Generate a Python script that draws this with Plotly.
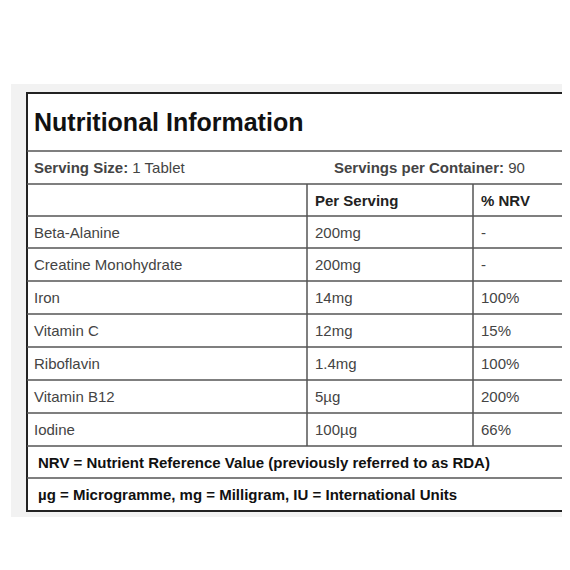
import plotly.graph_objects as go

title = "Nutritional Information"
serving_size = "1 Tablet"
servings_per_container = "90"
headers = ["Per Serving", "% NRV"]
nutrients = ["Beta-Alanine", "Creatine Monohydrate", "Iron", "Vitamin C", "Riboflavin", "Vitamin B12", "Iodine"]
per_serving = ["200mg", "200mg", "14mg", "12mg", "1.4mg", "5µg", "100µg"]
nrv = ["-", "-", "100%", "15%", "100%", "200%", "66%"]
notes = ["NRV = Nutrient Reference Value (previously referred to as RDA)",
         "µg = Microgramme, mg = Milligram, IU = International Units"]

L, R = 11, 563
C1, C2 = 291, 457
row_edges = [77, 135, 168, 200, 232, 265, 298, 331, 364, 397, 430, 462, 495]

fig = go.Figure()
shapes = [dict(type="rect", x0=-5, x1=569, y0=68, y1=501, fillcolor="#f2f2f2", line_width=0, layer="below"),
          dict(type="rect", x0=L, x1=R, y0=77, y1=495, fillcolor="white", line=dict(color="#222", width=2), layer="below")]
for y in row_edges[1:-1]:
    shapes.append(dict(type="line", x0=L, x1=R, y0=y, y1=y, line=dict(color="#555", width=1.5)))
shapes.append(dict(type="line", x0=C1, x1=C1, y0=168, y1=430, line=dict(color="#555", width=1.5)))
shapes.append(dict(type="line", x0=C2, x1=C2, y0=168, y1=430, line=dict(color="#555", width=1.5)))

def mid(i):
    return (row_edges[i] + row_edges[i + 1]) / 2

ann = []
def t(x, y, text, size=15, color="#444"):
    ann.append(dict(x=x, y=y, text=text, showarrow=False, xanchor="left", yanchor="middle",
                    font=dict(size=size, color=color, family="Liberation Sans, Arial")))

t(16, mid(0), "<b>" + title + "</b>", 25, "#111")
t(16, mid(1), "<b>Serving Size:</b> " + serving_size, 15, "#444")
t(316, mid(1), "<b>Servings per Container:</b> " + servings_per_container, 15, "#444")
t(297, mid(2), "<b>" + headers[0] + "</b>", 15, "#222")
t(463, mid(2), "<b>" + headers[1] + "</b>", 15, "#222")
for i, (n, p, v) in enumerate(zip(nutrients, per_serving, nrv)):
    y = mid(3 + i)
    t(16, y, n); t(297, y, p); t(463, y, v)
for j, n in enumerate(notes):
    t(20, mid(10 + j), "<b>" + n + "</b>", 15, "#111")

fig.update_layout(width=570, height=570, margin=dict(l=0, r=0, t=0, b=0),
                  paper_bgcolor="white", plot_bgcolor="white", shapes=shapes, annotations=ann,
                  xaxis=dict(range=[-8, 562], visible=False, fixedrange=True),
                  yaxis=dict(range=[562, -8], visible=False, fixedrange=True), showlegend=False)
fig.write_html("out.html")
